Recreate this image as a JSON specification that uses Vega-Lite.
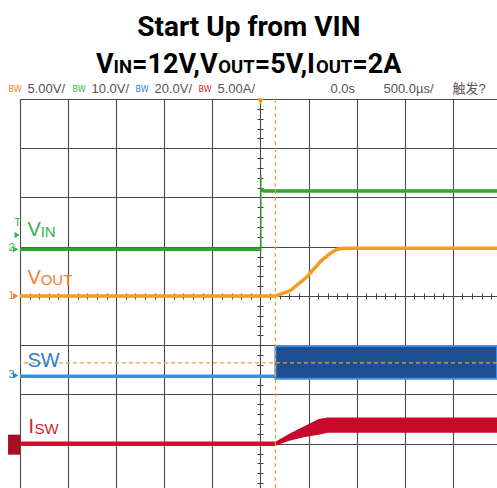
{
  "$schema": "https://vega.github.io/schema/vega-lite/v6.json",
  "width": 477,
  "height": 389,
  "autosize": {"type": "none"},
  "padding": {"left": 20, "top": 99, "right": 0, "bottom": 0},
  "background": "white",
  "config": {"view": {"stroke": null}},
  "resolve": {"axis": {"x": "independent", "y": "independent"}},
  "datasets": {
    "anchor": [{"t": 0, "v": 0}],
    "vin": [
      {"t": -2500, "v": 0.948, "seg": "a"}, {"t": 3, "v": 0.948, "seg": "a"},
      {"t": 6, "v": 2.16, "seg": "b"}, {"t": 40, "v": 2.13, "seg": "b"}, {"t": 2460, "v": 2.13, "seg": "b"}
    ],
    "vin_edge": [{"t": 5, "v": 0.9, "v2": 2.46}],
    "vout": [
      {"t": -2500, "v": 0}, {"t": 156, "v": 0}, {"t": 312, "v": 0.11}, {"t": 485, "v": 0.39},
      {"t": 624, "v": 0.7}, {"t": 728, "v": 0.87}, {"t": 797, "v": 0.95}, {"t": 870, "v": 0.97}, {"t": 2460, "v": 0.97}
    ],
    "sw_low": [{"t": -2500, "v": -1.63}, {"t": 158, "v": -1.63}],
    "sw_band": [{"t": 156, "v": -1.015, "v2": -1.68}, {"t": 2460, "v": -1.015, "v2": -1.68}],
    "isw_low": [{"t": -2500, "v": -3.0}, {"t": 156, "v": -3.0}],
    "isw_band": [
      {"t": 156, "v": -2.96, "v2": -3.04}, {"t": 300, "v": -2.8, "v2": -2.94}, {"t": 450, "v": -2.65, "v2": -2.87},
      {"t": 605, "v": -2.5, "v2": -2.82}, {"t": 700, "v": -2.47, "v2": -2.78}, {"t": 2460, "v": -2.47, "v2": -2.78}
    ],
    "cursor_t": [{"t": 156}],
    "cursor_v": [{"v": -1.36}],
    "labels_main": [
      {"t": -2422, "v": 1.218, "text": "V", "ch": "vin"},
      {"t": -2422, "v": 0.244, "text": "V", "ch": "vout"},
      {"t": -2422, "v": -1.436, "text": "SW", "ch": "sw"},
      {"t": -2412, "v": -2.782, "text": "I", "ch": "isw"}
    ],
    "labels_sub": [
      {"t": -2285, "v": 1.198, "text": "IN", "ch": "vin"},
      {"t": -2285, "v": 0.223, "text": "OUT", "ch": "vout"},
      {"t": -2350, "v": -2.8, "text": "SW", "ch": "isw"}
    ],
    "title1": [{"t": -120, "v": 5.285, "text": "Start Up from VIN"}],
    "title2_main": [
      {"t": -1709, "v": 4.535, "text": "V"},
      {"t": -1335, "v": 4.535, "text": "=12V,V"},
      {"t": -60, "v": 4.535, "text": "=5V,I"},
      {"t": 956, "v": 4.535, "text": "=2A"}
    ],
    "title2_sub": [
      {"t": -1527, "v": 4.535, "text": "IN"},
      {"t": -439, "v": 4.535, "text": "OUT"},
      {"t": 577, "v": 4.535, "text": "OUT"}
    ],
    "header_bw": [
      {"t": -2619, "v": 4.14, "text": "BW", "ch": "vout"},
      {"t": -1954, "v": 4.14, "text": "BW", "ch": "vin"},
      {"t": -1299, "v": 4.14, "text": "BW", "ch": "sw"},
      {"t": -644, "v": 4.14, "text": "BW", "ch": "isw"}
    ],
    "header": [
      {"t": -2422, "v": 4.12, "text": "5.00V/"},
      {"t": -1757, "v": 4.12, "text": "10.0V/"},
      {"t": -1102, "v": 4.12, "text": "20.0V/"},
      {"t": -447, "v": 4.12, "text": "5.00A/"},
      {"t": 728, "v": 4.12, "text": "0.0s"},
      {"t": 1279, "v": 4.12, "text": "500.0µs/"},
      {"t": 1996, "v": 4.12, "text": "触发?"}
    ],
    "chan_nums": [
      {"t": -2620, "v": -0.06, "text": "1", "ch": "vout"},
      {"t": -2620, "v": 0.91, "text": "2", "ch": "vin"},
      {"t": -2620, "v": -1.66, "text": "3", "ch": "sw"},
      {"t": -2560, "v": 1.42, "text": "T", "ch": "vin"}
    ],
    "chan_arrows": [
      {"t": -2545, "v": 0, "ch": "vout"},
      {"t": -2545, "v": 0.948, "ch": "vin"},
      {"t": -2545, "v": -1.614, "ch": "sw"},
      {"t": -2530, "v": 1.239, "ch": "vin"}
    ],
    "ch4_box": [{"t": -2562, "v": -3.02}],
    "trig_marker": [{"t": 0, "v": 3.95}]
  },
  "layer": [
    {
      "data": {"name": "anchor"},
      "mark": {"type": "point", "opacity": 0},
      "encoding": {
        "x": {"field": "t", "type": "quantitative", "scale": {"domain": [-2500, 2460], "nice": false, "zero": false},
          "axis": {"orient": "bottom", "values": [-2500, -2000, -1500, -1000, -500, 0, 500, 1000, 1500, 2000], "grid": true, "gridColor": "#4a4a4a", "gridWidth": 1.1, "gridOpacity": 1, "ticks": false, "labels": false, "domain": false, "title": null}},
        "y": {"field": "v", "type": "quantitative", "scale": {"domain": [-3.9, 4], "nice": false, "zero": false},
          "axis": {"orient": "left", "values": [4, 3, 2, 1, 0, -1, -2, -3], "grid": true, "gridColor": "#4a4a4a", "gridWidth": 1.1, "gridOpacity": 1, "ticks": false, "labels": false, "domain": false, "title": null}}
      }
    },
    {
      "data": {"name": "anchor"},
      "mark": {"type": "point", "opacity": 0},
      "encoding": {
        "x": {"field": "t", "type": "quantitative", "scale": {"domain": [-2500, 2460], "nice": false, "zero": false},
          "axis": {"orient": "bottom", "offset": -192, "values": [-2400,-2300,-2200,-2100,-2000,-1900,-1800,-1700,-1600,-1500,-1400,-1300,-1200,-1100,-1000,-900,-800,-700,-600,-500,-400,-300,-200,-100,0,100,200,300,400,500,600,700,800,900,1000,1100,1200,1300,1400,1500,1600,1700,1800,1900,2000,2100,2200,2300,2400], "grid": false, "ticks": true, "tickSize": 3, "tickColor": "#444", "tickWidth": 1, "labels": false, "domain": false, "title": null}},
        "y": {"field": "v", "type": "quantitative", "scale": {"domain": [-3.9, 4], "nice": false, "zero": false},
          "axis": {"orient": "left", "offset": -240, "values": [-3.8,-3.6,-3.4,-3.2,-3,-2.8,-2.6,-2.4,-2.2,-2,-1.8,-1.6,-1.4,-1.2,-1,-0.8,-0.6,-0.4,-0.2,0,0.2,0.4,0.6,0.8,1,1.2,1.4,1.6,1.8,2,2.2,2.4,2.6,2.8,3,3.2,3.4,3.6,3.8], "grid": false, "ticks": true, "tickSize": 3, "tickColor": "#444", "tickWidth": 1, "labels": false, "domain": false, "title": null}}
      }
    },
    {
      "data": {"name": "anchor"},
      "mark": {"type": "point", "opacity": 0},
      "encoding": {
        "x": {"field": "t", "type": "quantitative", "scale": {"domain": [-2500, 2460], "nice": false, "zero": false},
          "axis": {"orient": "top", "offset": -197, "values": [-2400,-2300,-2200,-2100,-2000,-1900,-1800,-1700,-1600,-1500,-1400,-1300,-1200,-1100,-1000,-900,-800,-700,-600,-500,-400,-300,-200,-100,0,100,200,300,400,500,600,700,800,900,1000,1100,1200,1300,1400,1500,1600,1700,1800,1900,2000,2100,2200,2300,2400], "grid": false, "ticks": true, "tickSize": 3, "tickColor": "#444", "tickWidth": 1, "labels": false, "domain": false, "title": null}},
        "y": {"field": "v", "type": "quantitative", "scale": {"domain": [-3.9, 4], "nice": false, "zero": false},
          "axis": {"orient": "right", "offset": -237, "values": [-3.8,-3.6,-3.4,-3.2,-3,-2.8,-2.6,-2.4,-2.2,-2,-1.8,-1.6,-1.4,-1.2,-1,-0.8,-0.6,-0.4,-0.2,0,0.2,0.4,0.6,0.8,1,1.2,1.4,1.6,1.8,2,2.2,2.4,2.6,2.8,3,3.2,3.4,3.6,3.8], "grid": false, "ticks": true, "tickSize": 3, "tickColor": "#444", "tickWidth": 1, "labels": false, "domain": false, "title": null}}
      }
    },
    {
      "data": {"name": "vin"},
      "mark": {"type": "line", "color": "#2aa82a", "strokeWidth": 3.5},
      "encoding": {
        "x": {"field": "t", "type": "quantitative", "scale": {"domain": [-2500, 2460], "nice": false, "zero": false}, "axis": null},
        "y": {"field": "v", "type": "quantitative", "scale": {"domain": [-3.9, 4], "nice": false, "zero": false}, "axis": null},
        "detail": {"field": "seg"}
      }
    },
    {
      "data": {"name": "vin_edge"},
      "mark": {"type": "rule", "color": "#2aa82a", "strokeWidth": 1.3},
      "encoding": {
        "x": {"field": "t", "type": "quantitative", "scale": {"domain": [-2500, 2460], "nice": false, "zero": false}, "axis": null},
        "y": {"field": "v", "type": "quantitative", "scale": {"domain": [-3.9, 4], "nice": false, "zero": false}, "axis": null},
        "y2": {"field": "v2"}
      }
    },
    {
      "data": {"name": "vout"},
      "mark": {"type": "line", "color": "#f59b22", "strokeWidth": 3.5},
      "encoding": {
        "x": {"field": "t", "type": "quantitative", "scale": {"domain": [-2500, 2460], "nice": false, "zero": false}, "axis": null},
        "y": {"field": "v", "type": "quantitative", "scale": {"domain": [-3.9, 4], "nice": false, "zero": false}, "axis": null}
      }
    },
    {
      "data": {"name": "sw_low"},
      "mark": {"type": "line", "color": "#3a8ee6", "strokeWidth": 3.5},
      "encoding": {
        "x": {"field": "t", "type": "quantitative", "scale": {"domain": [-2500, 2460], "nice": false, "zero": false}, "axis": null},
        "y": {"field": "v", "type": "quantitative", "scale": {"domain": [-3.9, 4], "nice": false, "zero": false}, "axis": null}
      }
    },
    {
      "data": {"name": "sw_band"},
      "mark": {"type": "area", "color": "#1f4f92", "stroke": "#3d90e6", "strokeWidth": 2, "opacity": 1},
      "encoding": {
        "x": {"field": "t", "type": "quantitative", "scale": {"domain": [-2500, 2460], "nice": false, "zero": false}, "axis": null},
        "y": {"field": "v", "type": "quantitative", "scale": {"domain": [-3.9, 4], "nice": false, "zero": false}, "axis": null},
        "y2": {"field": "v2"}
      }
    },
    {
      "data": {"name": "isw_low"},
      "mark": {"type": "line", "color": "#d0102a", "strokeWidth": 4.5},
      "encoding": {
        "x": {"field": "t", "type": "quantitative", "scale": {"domain": [-2500, 2460], "nice": false, "zero": false}, "axis": null},
        "y": {"field": "v", "type": "quantitative", "scale": {"domain": [-3.9, 4], "nice": false, "zero": false}, "axis": null}
      }
    },
    {
      "data": {"name": "isw_band"},
      "mark": {"type": "area", "color": "#c8082a", "opacity": 1},
      "encoding": {
        "x": {"field": "t", "type": "quantitative", "scale": {"domain": [-2500, 2460], "nice": false, "zero": false}, "axis": null},
        "y": {"field": "v", "type": "quantitative", "scale": {"domain": [-3.9, 4], "nice": false, "zero": false}, "axis": null},
        "y2": {"field": "v2"}
      }
    },
    {
      "data": {"name": "cursor_t"},
      "mark": {"type": "rule", "color": "#f5a030", "strokeWidth": 1.2, "strokeDash": [4, 3]},
      "encoding": {
        "x": {"field": "t", "type": "quantitative", "scale": {"domain": [-2500, 2460], "nice": false, "zero": false}, "axis": null}
      }
    },
    {
      "data": {"name": "cursor_v"},
      "mark": {"type": "rule", "color": "#f5a030", "strokeWidth": 1.2, "strokeDash": [4, 3]},
      "encoding": {
        "y": {"field": "v", "type": "quantitative", "scale": {"domain": [-3.9, 4], "nice": false, "zero": false}, "axis": null}
      }
    },
    {
      "data": {"name": "labels_main"},
      "mark": {"type": "text", "align": "left", "baseline": "alphabetic", "font": "Liberation Sans", "fontSize": 20},
      "encoding": {
        "x": {"field": "t", "type": "quantitative", "scale": {"domain": [-2500, 2460], "nice": false, "zero": false}, "axis": null},
        "y": {"field": "v", "type": "quantitative", "scale": {"domain": [-3.9, 4], "nice": false, "zero": false}, "axis": null},
        "text": {"field": "text"},
        "color": {"field": "ch", "type": "nominal", "scale": {"domain": ["vin", "vout", "sw", "isw"], "range": ["#2db34a", "#f07f2e", "#2a80d6", "#d01f2f"]}, "legend": null}
      }
    },
    {
      "data": {"name": "labels_sub"},
      "mark": {"type": "text", "align": "left", "baseline": "alphabetic", "font": "Liberation Sans", "fontSize": 15},
      "encoding": {
        "x": {"field": "t", "type": "quantitative", "scale": {"domain": [-2500, 2460], "nice": false, "zero": false}, "axis": null},
        "y": {"field": "v", "type": "quantitative", "scale": {"domain": [-3.9, 4], "nice": false, "zero": false}, "axis": null},
        "text": {"field": "text"},
        "color": {"field": "ch", "type": "nominal", "scale": {"domain": ["vin", "vout", "sw", "isw"], "range": ["#2db34a", "#f07f2e", "#2a80d6", "#d01f2f"]}, "legend": null}
      }
    },
    {
      "data": {"name": "chan_nums"},
      "mark": {"type": "text", "align": "left", "baseline": "alphabetic", "font": "Liberation Sans", "fontSize": 11},
      "encoding": {
        "x": {"field": "t", "type": "quantitative", "scale": {"domain": [-2500, 2460], "nice": false, "zero": false}, "axis": null},
        "y": {"field": "v", "type": "quantitative", "scale": {"domain": [-3.9, 4], "nice": false, "zero": false}, "axis": null},
        "text": {"field": "text"},
        "color": {"field": "ch", "type": "nominal", "scale": {"domain": ["vin", "vout", "sw", "isw"], "range": ["#2db34a", "#f07f2e", "#2a80d6", "#d01f2f"]}, "legend": null}
      }
    },
    {
      "data": {"name": "chan_arrows"},
      "mark": {"type": "point", "shape": "triangle-right", "filled": true, "size": 35, "opacity": 1},
      "encoding": {
        "x": {"field": "t", "type": "quantitative", "scale": {"domain": [-2500, 2460], "nice": false, "zero": false}, "axis": null},
        "y": {"field": "v", "type": "quantitative", "scale": {"domain": [-3.9, 4], "nice": false, "zero": false}, "axis": null},
        "color": {"field": "ch", "type": "nominal", "scale": {"domain": ["vin", "vout", "sw", "isw"], "range": ["#2db34a", "#f07f2e", "#2a80d6", "#d01f2f"]}, "legend": null}
      }
    },
    {
      "data": {"name": "ch4_box"},
      "mark": {"type": "point", "shape": "M-0.6,-1H0.6V1H-0.6Z", "filled": true, "size": 400, "color": "#a50f1f", "opacity": 1},
      "encoding": {
        "x": {"field": "t", "type": "quantitative", "scale": {"domain": [-2500, 2460], "nice": false, "zero": false}, "axis": null},
        "y": {"field": "v", "type": "quantitative", "scale": {"domain": [-3.9, 4], "nice": false, "zero": false}, "axis": null}
      }
    },
    {
      "data": {"name": "trig_marker"},
      "mark": {"type": "point", "shape": "triangle-down", "filled": true, "size": 45, "color": "#f5900f", "opacity": 1},
      "encoding": {
        "x": {"field": "t", "type": "quantitative", "scale": {"domain": [-2500, 2460], "nice": false, "zero": false}, "axis": null},
        "y": {"field": "v", "type": "quantitative", "scale": {"domain": [-3.9, 4], "nice": false, "zero": false}, "axis": null}
      }
    },
    {
      "data": {"name": "title1"},
      "mark": {"type": "text", "align": "center", "baseline": "alphabetic", "font": "Roboto", "fontWeight": "bold", "fontSize": 28, "color": "#000"},
      "encoding": {
        "x": {"field": "t", "type": "quantitative", "scale": {"domain": [-2500, 2460], "nice": false, "zero": false}, "axis": null},
        "y": {"field": "v", "type": "quantitative", "scale": {"domain": [-3.9, 4], "nice": false, "zero": false}, "axis": null},
        "text": {"field": "text"}
      }
    },
    {
      "data": {"name": "title2_main"},
      "mark": {"type": "text", "align": "left", "baseline": "alphabetic", "font": "Roboto", "fontWeight": "bold", "fontSize": 27, "color": "#000"},
      "encoding": {
        "x": {"field": "t", "type": "quantitative", "scale": {"domain": [-2500, 2460], "nice": false, "zero": false}, "axis": null},
        "y": {"field": "v", "type": "quantitative", "scale": {"domain": [-3.9, 4], "nice": false, "zero": false}, "axis": null},
        "text": {"field": "text"}
      }
    },
    {
      "data": {"name": "title2_sub"},
      "mark": {"type": "text", "align": "left", "baseline": "alphabetic", "font": "Roboto", "fontWeight": "bold", "fontSize": 18.5, "color": "#000"},
      "encoding": {
        "x": {"field": "t", "type": "quantitative", "scale": {"domain": [-2500, 2460], "nice": false, "zero": false}, "axis": null},
        "y": {"field": "v", "type": "quantitative", "scale": {"domain": [-3.9, 4], "nice": false, "zero": false}, "axis": null},
        "text": {"field": "text"}
      }
    },
    {
      "data": {"name": "header_bw"},
      "mark": {"type": "text", "align": "left", "baseline": "alphabetic", "font": "DejaVu Sans", "fontSize": 8},
      "encoding": {
        "x": {"field": "t", "type": "quantitative", "scale": {"domain": [-2500, 2460], "nice": false, "zero": false}, "axis": null},
        "y": {"field": "v", "type": "quantitative", "scale": {"domain": [-3.9, 4], "nice": false, "zero": false}, "axis": null},
        "text": {"field": "text"},
        "color": {"field": "ch", "type": "nominal", "scale": {"domain": ["vin", "vout", "sw", "isw"], "range": ["#55cc44", "#ffaa55", "#66aaff", "#ff5577"]}, "legend": null}
      }
    },
    {
      "data": {"name": "header"},
      "mark": {"type": "text", "align": "left", "baseline": "alphabetic", "font": "Liberation Sans Narrow, Liberation Sans, Noto Sans CJK SC", "fontSize": 13, "color": "#555555"},
      "encoding": {
        "x": {"field": "t", "type": "quantitative", "scale": {"domain": [-2500, 2460], "nice": false, "zero": false}, "axis": null},
        "y": {"field": "v", "type": "quantitative", "scale": {"domain": [-3.9, 4], "nice": false, "zero": false}, "axis": null},
        "text": {"field": "text"}
      }
    }
  ]
}
